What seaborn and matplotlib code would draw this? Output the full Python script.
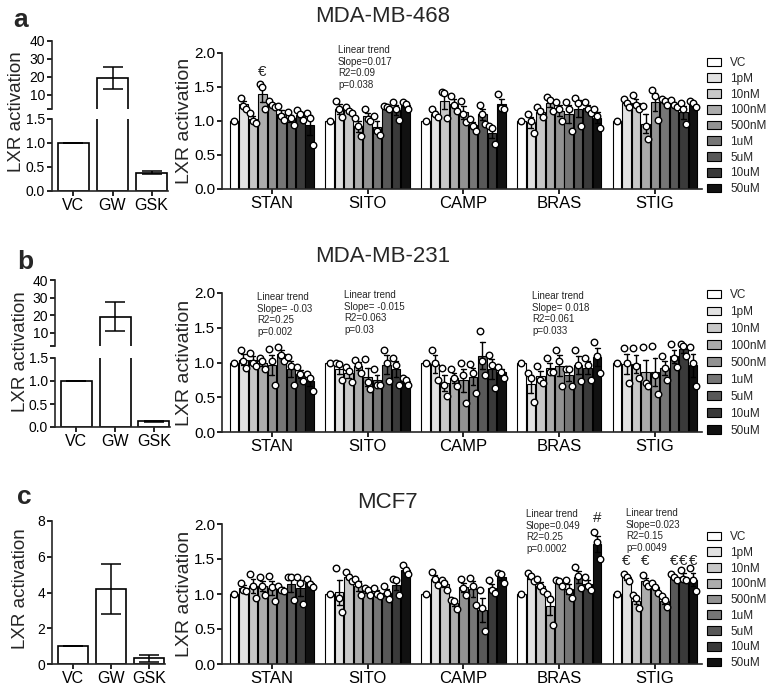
import numpy as np
import pandas as pd
import matplotlib
matplotlib.use('Agg')
import matplotlib.pyplot as plt
import seaborn as sns
from matplotlib.patches import Patch

sns.set_style('ticks')
plt.rcParams['font.family'] = ['Liberation Sans', 'DejaVu Sans']
plt.rcParams['axes.linewidth'] = 1.2

# ---------------- data ----------------
COMPOUNDS = ['STAN', 'SITO', 'CAMP', 'BRAS', 'STIG']
CONCS = ['VC', '1pM', '10nM', '100nM', '500nM', '1uM', '5uM', '10uM', '50uM']
COLORS = ['#ffffff', '#e2e2e2', '#c8c8c8', '#acacac', '#929292', '#767676', '#585858', '#3a3a3a', '#111111']
LEFT_CATS = ['VC', 'GW', 'GSK']

# left control panels (mean, error)
A_LEFT_MEAN = [1.0, 19.5, 0.38]
A_LEFT_ERR = [0.0, 6.3, 0.03]
B_LEFT_MEAN = [1.0, 19.2, 0.12]
B_LEFT_ERR = [0.0, 8.2, 0.005]
C_LEFT_MEAN = [1.0, 4.2, 0.32]
C_LEFT_ERR = [0.0, 1.4, 0.19]

# MDA-MB-468 replicate values per concentration
A_STAN = [[1.0], [1.34, 1.22, 1.18], [1.12, 1.0, 0.97], [1.54, 1.50, 1.17], [1.29, 1.24, 1.2],
          [1.22, 1.08, 1.02], [1.13, 1.05, 0.94], [1.16, 1.1, 1.02], [1.12, 1.05, 0.64]]
A_SITO = [[1.0], [1.29, 1.18, 1.06], [1.2, 1.15, 1.12], [1.05, 0.93, 0.78], [1.17, 1.03, 1.0],
          [1.08, 0.85, 0.8], [1.22, 1.2, 1.18], [1.28, 1.17, 1.02], [1.28, 1.25, 1.17]]
A_CAMP = [[1.0], [1.17, 1.1, 1.06], [1.42, 1.41, 1.05], [1.37, 1.24, 1.15], [1.3, 1.1, 0.98],
          [1.03, 0.93, 0.85], [1.24, 1.1, 0.95], [0.92, 0.9, 0.66], [1.4, 1.19, 1.18]]
A_BRAS = [[1.0], [1.11, 1.0, 0.83], [1.2, 1.15, 1.06], [1.35, 1.31, 1.15], [1.28, 1.18, 1.0],
          [1.28, 1.17, 0.85], [1.34, 1.27, 0.93], [1.28, 1.17, 1.12], [1.17, 1.08, 0.9]]
A_STIG = [[1.0], [1.32, 1.27, 1.21], [1.38, 1.24, 1.17], [1.22, 0.93, 0.73], [1.45, 1.37, 1.02],
          [1.33, 1.29, 1.24], [1.31, 1.23, 1.2], [1.26, 1.17, 0.95], [1.3, 1.26, 1.2]]

# MDA-MB-231
B_STAN = [[1.0], [1.18, 1.02, 0.92], [1.14, 1.0, 0.95], [1.06, 1.02, 0.91], [1.19, 1.02, 0.68],
          [1.22, 1.11, 1.02], [1.08, 0.95, 0.68], [0.94, 0.83, 0.73], [0.84, 0.78, 0.59]]
B_SITO = [[1.0], [1.0, 0.98, 0.75], [0.93, 0.88, 0.72], [1.04, 0.97, 0.85], [1.05, 0.72, 0.62],
          [0.9, 0.68, 0.67], [1.18, 1.0, 0.73], [1.06, 0.97, 0.68], [0.78, 0.75, 0.67]]
B_CAMP = [[1.0], [1.18, 1.0, 0.75], [0.92, 0.68, 0.52], [0.9, 0.78, 0.66], [0.99, 0.82, 0.42],
          [0.98, 0.85, 0.56], [1.46, 1.02, 0.82], [1.11, 0.97, 0.63], [0.94, 0.87, 0.78]]
B_BRAS = [[1.0], [0.85, 0.78, 0.43], [0.95, 0.75, 0.7], [1.06, 0.86, 0.86], [1.18, 1.02, 0.66],
          [0.9, 0.9, 0.66], [1.18, 0.97, 0.73], [1.06, 0.97, 0.75], [1.3, 1.09, 0.85]]
B_STIG = [[1.0], [1.21, 1.0, 0.71], [1.21, 0.95, 0.78], [1.22, 0.71, 0.66], [1.24, 0.82, 0.54],
          [1.09, 0.92, 0.75], [1.26, 1.06, 0.94], [1.26, 1.24, 1.09], [1.22, 1.0, 0.66]]

# MCF7
C_STAN = [[1.0], [1.16, 1.06, 1.04], [1.28, 1.11, 0.95], [1.24, 1.12, 0.98], [1.26, 1.1, 0.9],
          [1.12, 1.06, 1.04], [1.25, 1.24, 0.92], [1.24, 1.16, 0.86], [1.22, 1.14, 1.1]]
C_SITO = [[1.0], [1.37, 0.95, 0.75], [1.31, 1.25, 1.18], [1.22, 1.15, 0.98], [1.09, 1.06, 0.98],
          [1.09, 1.0, 0.97], [1.12, 1.01, 0.93], [1.21, 1.2, 0.99], [1.42, 1.35, 1.28]]
C_CAMP = [[1.0], [1.32, 1.21, 1.13], [1.2, 1.16, 1.06], [0.92, 0.9, 0.78], [1.21, 1.09, 0.99],
          [1.23, 1.12, 0.85], [1.06, 0.8, 0.47], [1.2, 1.06, 1.01], [1.3, 1.28, 1.16]]
C_BRAS = [[1.0], [1.3, 1.26, 1.18], [1.21, 1.11, 1.04], [1.0, 0.93, 0.56], [1.2, 1.18, 1.11],
          [1.2, 1.05, 0.95], [1.39, 1.26, 1.09], [1.25, 1.12, 1.06], [1.88, 1.75, 1.5]]
C_STIG = [[1.0], [1.28, 1.25, 1.18], [0.98, 0.94, 0.8], [1.27, 1.16, 1.12], [1.16, 1.1, 1.02],
          [0.97, 0.92, 0.81], [1.28, 1.25, 1.2], [1.34, 1.21, 1.2], [1.37, 1.2, 1.04]]

TITLES = ['MDA-MB-468', 'MDA-MB-231', 'MCF7']
TREND_A = ['Linear trend\nSlope=0.017\nR2=0.09\np=0.038']
TREND_B = ['Linear trend\nSlope= -0.03\nR2=0.25\np=0.002',
           'Linear trend\nSlope= -0.015\nR2=0.063\np=0.03',
           'Linear trend\nSlope= 0.018\nR2=0.061\np=0.033']
TREND_C = ['Linear trend\nSlope=0.049\nR2=0.25\np=0.0002',
           'Linear trend\nSlope=0.023\nR2=0.15\np=0.0049']

# ---------------- layout ----------------
W, H = 776, 693
fig = plt.figure(figsize=(W / 100, H / 100), dpi=100)
STEP = 0.89 / 9
LBL_FS = 14


def add_ax(l, t, r, b):
    return fig.add_axes([l / W, 1 - b / H, (r - l) / W, (b - t) / H])


def style(ax, left=True, bottom=True, ysize=11, xsize=12):
    sns.despine(ax=ax, top=True, right=True, left=not left, bottom=not bottom)
    ax.tick_params(width=1.2, length=3.5, pad=1.5, colors='black')
    ax.tick_params(axis='y', labelsize=ysize)
    ax.tick_params(axis='x', labelsize=xsize)
    ax.set_facecolor('none')


def draw_main(ax, groups, legend_top, labelspacing):
    rows = []
    for g, bars in enumerate(groups):
        for i, vals in enumerate(bars):
            pos = g + (i - 4) * STEP
            n = len(vals)
            for j, v in enumerate(vals):
                rows.append(dict(pos=pos, conc=CONCS[i], value=v,
                                 px=pos + (j - (n - 1) / 2) * 0.3 * STEP))
    df = pd.DataFrame(rows)
    sns.barplot(data=df, x='pos', y='value', hue='conc', hue_order=CONCS,
                palette=dict(zip(CONCS, COLORS)), native_scale=True, dodge=False,
                width=0.9, errorbar='se', capsize=0.5,
                err_kws={'color': 'black', 'linewidth': 1.0},
                edgecolor='black', linewidth=0.8, legend=False, ax=ax)
    sns.scatterplot(data=df, x='px', y='value', color='white', edgecolor='black',
                    linewidth=1.0, s=22, zorder=4, legend=False, ax=ax)
    ax.set_xlim(-0.52, 4.49)
    ax.set_ylim(0, 2.0)
    ax.set_yticks([0, 0.5, 1.0, 1.5, 2.0])
    ax.set_yticklabels(['0.0', '0.5', '1.0', '1.5', '2.0'])
    ax.set_xticks(range(len(COMPOUNDS)))
    ax.set_xticklabels(COMPOUNDS)
    ax.set_xlabel('')
    ax.set_ylabel('LXR activation', fontsize=LBL_FS)
    ax.yaxis.set_label_coords(-0.06, 0.5)
    style(ax, ysize=11, xsize=12)
    handles = [Patch(facecolor=c, edgecolor='black', linewidth=0.8, label=l)
               for c, l in zip(COLORS, CONCS)]
    ax.legend(handles=handles, loc='upper left', bbox_to_anchor=(707 / W, 1 - legend_top / H),
              bbox_transform=fig.transFigure, frameon=False, fontsize=8.5,
              handlelength=1.15, handleheight=0.75, handletextpad=0.8,
              labelspacing=labelspacing, borderpad=0, borderaxespad=0)


def left_bars(ax, means, errs):
    df = pd.DataFrame({'cat': LEFT_CATS, 'val': means})
    sns.barplot(data=df, x='cat', y='val', color='white', edgecolor='black',
                linewidth=1.2, width=0.8, errorbar=None, ax=ax)
    ax.errorbar(x=np.arange(len(LEFT_CATS)), y=means, yerr=errs, fmt='none',
                ecolor='black', elinewidth=1.1, capsize=7, capthick=1.1, zorder=3)
    ax.set_xlim(-0.55, 2.42)
    ax.set_xlabel('')
    ax.set_ylabel('')


def draw_left_broken(top_box, bot_box, means, errs):
    axt = add_ax(*top_box)
    left_bars(axt, means, errs)
    axt.set_ylim(2.5, 40)
    axt.set_yticks([2.5, 10, 20, 30, 40])
    axt.set_yticklabels(['', '10', '20', '30', '40'])
    axt.set_xticks([])
    style(axt, bottom=False, ysize=10)
    axb = add_ax(*bot_box)
    left_bars(axb, means, errs)
    axb.set_ylim(0, 1.5)
    axb.set_yticks([0, 0.5, 1.0, 1.5])
    axb.set_yticklabels(['0.0', '0.5', '1.0', '1.5'])
    style(axb, ysize=10, xsize=11.5)


# ---------------- panel a ----------------
axA = add_ax(222, 53, 702, 189)
draw_main(axA, [A_STAN, A_SITO, A_CAMP, A_BRAS, A_STIG], 57, 0.32)
axA.text(0 + (3 - 4) * STEP, 1.72, '€', ha='center', va='center', fontsize=11)
draw_left_broken((52, 41, 168, 108.5), (52, 119, 168, 191), A_LEFT_MEAN, A_LEFT_ERR)

# ---------------- panel b ----------------
axB = add_ax(222, 293, 702, 432)
draw_main(axB, [B_STAN, B_SITO, B_CAMP, B_BRAS, B_STIG], 289, 0.42)
draw_left_broken((55, 280, 170, 346), (55, 358, 170, 427), B_LEFT_MEAN, B_LEFT_ERR)

# ---------------- panel c ----------------
axC = add_ax(222, 524, 702, 664)
draw_main(axC, [C_STAN, C_SITO, C_CAMP, C_BRAS, C_STIG], 531, 0.32)
axC.text(3 + 4 * STEP, 2.09, '#', ha='center', va='center', fontsize=11, clip_on=False)
for i in [1, 3, 6, 7, 8]:
    axC.text(4 + (i - 4) * STEP, 1.47, '€', ha='center', va='center', fontsize=11, clip_on=False)
axCl = add_ax(52, 521, 165, 664)
left_bars(axCl, C_LEFT_MEAN, C_LEFT_ERR)
axCl.set_ylim(0, 8)
axCl.set_yticks([0, 2, 4, 6, 8])
style(axCl, ysize=10, xsize=11.5)

# ---------------- texts ----------------
def ftext(x, y, s, **kw):
    fig.text(x / W, 1 - y / H, s, **kw)

ftext(21, 20, 'a', fontsize=19, fontweight='bold', ha='center', va='center')
ftext(25, 262, 'b', fontsize=19, fontweight='bold', ha='center', va='center')
ftext(24, 497, 'c', fontsize=19, fontweight='bold', ha='center', va='center')

ftext(383, 17, TITLES[0], fontsize=16, ha='center', va='center')
ftext(383, 256, TITLES[1], fontsize=16, ha='center', va='center')
ftext(387, 503, TITLES[2], fontsize=16, ha='center', va='center')

for x, y in [(17, 112), (21, 352), (21, 589)]:
    ftext(x, y, 'LXR activation', fontsize=13.5, rotation=90, ha='center', va='center')

for (x, y), s in zip([(338, 45)], TREND_A):
    ftext(x, y, s, fontsize=7, ha='left', va='top', linespacing=1.2)
for (x, y), s in zip([(257, 292), (344, 290), (532, 291)], TREND_B):
    ftext(x, y, s, fontsize=7, ha='left', va='top', linespacing=1.2)
for (x, y), s in zip([(526, 509), (626, 508)], TREND_C):
    ftext(x, y, s, fontsize=7, ha='left', va='top', linespacing=1.2)

fig.savefig('out.png', dpi=100, facecolor='white')
